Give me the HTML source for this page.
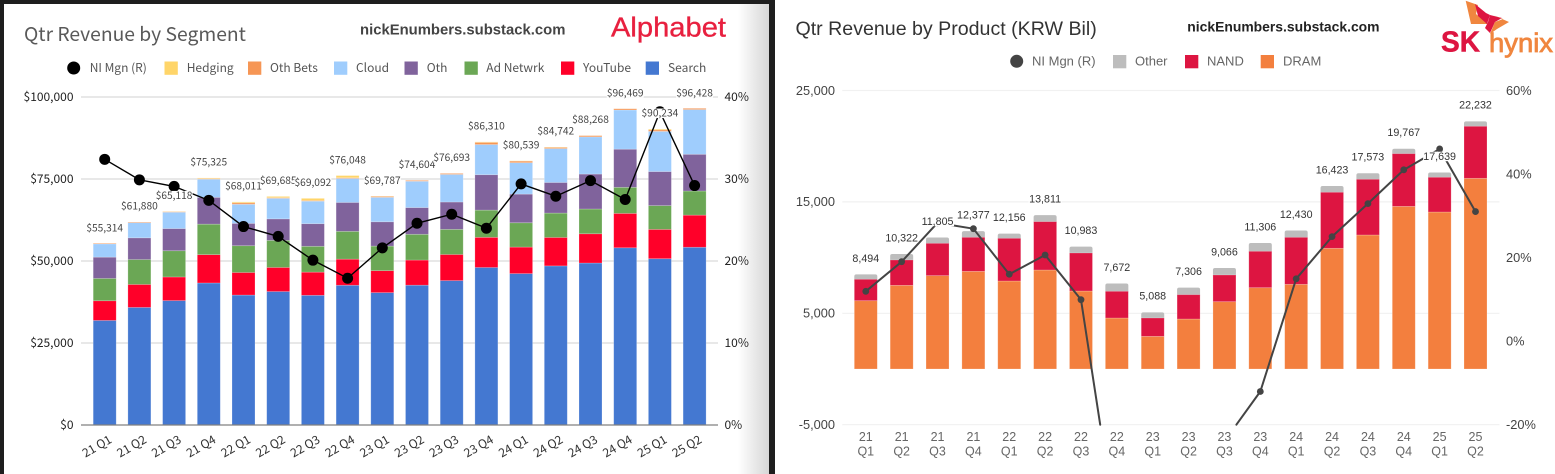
<!DOCTYPE html>
<html lang="en">
<head>
<meta charset="utf-8">
<title>Qtr Revenue: Alphabet and SK hynix</title>
<style>
html,body{margin:0;padding:0;background:#1e1e1e;width:1555px;height:474px;overflow:hidden}
svg{display:block}
.l{font-family:"Noto Sans CJK JP","Liberation Sans",sans-serif}
.r{font-family:"Liberation Sans",sans-serif}
</style>
</head>
<body>
<svg id="root" xmlns="http://www.w3.org/2000/svg" width="1555" height="474" viewBox="0 0 1555 474">
  <defs>
    <linearGradient id="shade" x1="0" x2="1" y1="0" y2="0">
      <stop offset="0" stop-color="#ffffff"/>
      <stop offset="1" stop-color="#d6d6d6"/>
    </linearGradient>
  </defs>
  <rect x="0" y="0" width="1555" height="474" fill="#1e1e1e"/>
  <rect x="4" y="4" width="765" height="470" fill="#ffffff"/>
  <rect x="738" y="4" width="31" height="470" fill="url(#shade)"/>
  <rect x="775" y="0" width="780" height="474" fill="#ffffff"/>

  <g id="leftChart" class="l">
    <text x="24" y="41" font-size="19.3" fill="#595959">Qtr Revenue by Segment</text>
    <text x="360" y="34.5" font-size="14.85" font-weight="700" fill="#444" style="font-family:'Liberation Sans',sans-serif">nickEnumbers.substack.com</text>
    <text x="611" y="36.5" font-size="28" fill="#e8203f" stroke="#e8203f" stroke-width=".35" style="font-family:'Liberation Sans',sans-serif" textLength="115" lengthAdjust="spacingAndGlyphs">Alphabet</text>
  </g>

  <g id="rightChart" class="r">
    <text x="795.5" y="35" font-size="19.6" fill="#333">Qtr Revenue by Product (KRW Bil)</text>
    <text x="1187.3" y="31.7" font-size="13.9" font-weight="700" fill="#222">nickEnumbers.substack.com</text>
    <g>
      <path d="M1465.7 .7L1478 5L1476 14L1488 24L1471 24Z" fill="#f0863f"/>
      <path d="M1475 4L1486 13L1490 15L1487 24L1478 16Z" fill="#dd1541"/>
      <path d="M1490 15L1502 18L1495 22L1490 33L1485 28L1488 22Z" fill="#dd1541"/>
      <path d="M1493 15L1509 22L1497 29L1490 34L1495 22L1503 19Z" fill="#f0863f"/>
      <text x="1441" y="51.5" font-size="29" font-weight="700" fill="#dd1541" stroke="#dd1541" stroke-width=".5" textLength="39" lengthAdjust="spacingAndGlyphs">SK</text>
      <text x="1489" y="52" font-size="27" font-weight="400" fill="#f0863f" stroke="#f0863f" stroke-width=".8" textLength="64" lengthAdjust="spacingAndGlyphs">hynix</text>
    </g>
  </g>
</svg>

<script>
/* ---------- Alphabet data ---------- */
const alphabetQuarters = ['21 Q1','21 Q2','21 Q3','21 Q4','22 Q1','22 Q2','22 Q3','22 Q4','23 Q1','23 Q2','23 Q3','23 Q4','24 Q1','24 Q2','24 Q3','24 Q4','25 Q1','25 Q2'];
const alphaSearch = [31879,35845,37926,43301,39618,40689,39539,42604,40359,42628,44026,48020,46156,48509,49385,54034,50702,54190];
const alphaYouTube = [6005,7002,7205,8633,6869,7340,7071,7963,6693,7665,7952,9200,8090,8663,8921,10473,8927,9796];
const alphaAdNetwork = [6800,7597,7999,9305,8174,8259,7872,8475,7496,7850,7669,8297,7413,7444,7548,7954,7256,7354];
const alphaOther = [6494,6623,6754,8161,6811,6553,6895,8796,7413,8142,8339,10794,8739,9312,10656,11633,10379,11203];
const alphaCloud = [4047,4628,4990,5541,5821,6276,6868,7315,7454,8031,8411,9192,9574,10347,11353,11955,12260,13624];
const alphaOtherBets = [198,192,182,181,440,193,209,226,288,285,297,657,495,365,388,400,450,373];
const alphaHedging = [0,0,62,203,278,375,638,669,84,3,0,150,72,102,17,20,260,0];
const alphaTotals = [55314,61880,65118,75325,68011,69685,69092,76048,69787,74604,76693,86310,80539,84742,88268,96469,90234,96428];
const alphaMargin = [32.4,29.9,29.1,27.4,24.2,23.0,20.1,17.9,21.6,24.6,25.7,24.0,29.4,27.9,29.8,27.5,38.2,29.2];
const alphaLeftTicks = [0,25000,50000,75000,100000];
const alphaRightTicks = [0,10,20,30,40];

/* ---------- SK hynix data ---------- */
const hynixQuarters = ['21 Q1','21 Q2','21 Q3','21 Q4','22 Q1','22 Q2','22 Q3','22 Q4','23 Q1','23 Q2','23 Q3','23 Q4','24 Q1','24 Q2','24 Q3','24 Q4','25 Q1','25 Q2'];
const hynixDram = [6131,7510,8380,8767,7899,8887,7000,4578,2933,4488,6042,7298,7603,10835,12030,14600,14093,17118];
const hynixNand = [1921,2275,2900,3051,3831,4338,3413,2395,1645,2182,2396,3267,4215,5027,4998,4727,3115,4668];
const hynixOther = [442,537,525,559,426,586,570,699,510,636,628,741,612,561,545,440,431,446];
const hynixTotals = [8494,10322,11805,12377,12156,13811,10983,7672,5088,7306,9066,11306,12430,16423,17573,19767,17639,22232];
const hynixMargin = [11.9,19.0,28.3,26.9,16.0,20.6,9.9,-46,-50.8,-40.9,-24,-12.1,14.9,25,32.9,41,46,31];
const hynixLeftTicks = [25000,15000,5000,-5000];
const hynixRightTicks = [60,40,20,0,-20];

/* ---------- axis functions ---------- */
const xAlpha = i => 104.7 + i * 34.7;
const yAlpha = v => 425 - v * 0.00328;
const yAlphaPct = p => 425 - p * 8.2;
const xHynix = i => 865.8 + i * 35.865;
const yHynix = v => 369 - v * 0.01114;
const yHynixPct = p => 341 - p * 4.175;
const HYNIX_PLOT_BOTTOM = yHynix(-5000);
const fmt = n => n.toLocaleString('en-US');

const NS = 'http://www.w3.org/2000/svg';
function mk(parent, tag, attrs, txt) {
  const el = document.createElementNS(NS, tag);
  for (const k in attrs) el.setAttribute(k, attrs[k]);
  if (txt !== undefined) el.textContent = txt;
  parent.appendChild(el);
  return el;
}
const L = document.getElementById('leftChart');
const R = document.getElementById('rightChart');
const BAR_W = 23;

/* ---------- Alphabet legend ---------- */
const alphaSeriesNames = ['Search','YouTube','Ad Netwrk','Oth','Cloud','Oth Bets','Hedging'];
const alphaSeriesColors = ['#4478d1','#ff0029','#6ba755','#80639c','#9fcdfd','#f69655','#ffd569'];
const alphaSeriesValues = [alphaSearch,alphaYouTube,alphaAdNetwork,alphaOther,alphaCloud,alphaOtherBets,alphaHedging];
const alphaLegendSlots = [
  {i:6,sq:164.5,tx:186.7},{i:5,sq:248,tx:270},{i:4,sq:334,tx:356},{i:3,sq:404.5,tx:426.7},
  {i:2,sq:464.5,tx:486.3},{i:1,sq:561,tx:583},{i:0,sq:645.7,tx:668}
];
{
  const dot = mk(L,'circle',{cx:73.7,cy:68,r:6.5,fill:'#000'});
  
  
  const dotText = mk(L,'text',{x:89.7,y:72,'font-size':12,fill:'#555'},'NI Mgn (R)');
  
  
  alphaLegendSlots.forEach(s => {
    const sq = mk(L,'rect',{x:s.sq,y:61.5,width:13.3,height:13.3,fill:alphaSeriesColors[s.i]});
    
    
    const t = mk(L,'text',{x:s.tx,y:72,'font-size':12,fill:'#555'},alphaSeriesNames[s.i]);
    
    
  });
}

/* ---------- Alphabet grid and ticks ---------- */
alphaLeftTicks.forEach(v => {
  const y = yAlpha(v);
  if (v !== 0) {
    const g = mk(L,'line',{x1:81,x2:718,y1:y,y2:y,stroke:'#d9d9d9','stroke-width':1.2});
    
    
  }
  const t = mk(L,'text',{x:73.5,y:y+4,'text-anchor':'end','font-size':12,fill:'#222'},'$'+fmt(v));
  
  
});
alphaRightTicks.forEach(p => {
  const t = mk(L,'text',{x:724.5,y:yAlphaPct(p)+4,'font-size':12,fill:'#222'},p+'%');
  
  
});

/* ---------- Alphabet bars ---------- */
alphabetQuarters.forEach((q,i) => {
  let base = 0;
  alphaSeriesValues.forEach((vals,s) => {
    const v = vals[i];
    if (v > 0) {
      const top = yAlpha(base + v);
      const bar = mk(L,'rect',{x:xAlpha(i)-BAR_W/2,y:top,width:BAR_W,height:yAlpha(base)-top,fill:alphaSeriesColors[s],stroke:'#fff','stroke-opacity':.3,'stroke-width':.7});
      
      
    }
    base += v;
  });
  const t = mk(L,'text',{x:0,y:0,'text-anchor':'end','font-size':12,fill:'#333',transform:'translate('+(xAlpha(i)+8)+' 442) rotate(-30)'},q);
  
  
});
{
  const base = mk(L,'line',{x1:81,x2:718,y1:425,y2:425,stroke:'#808080','stroke-width':1.3});
  
  
  const line = mk(L,'polyline',{points:alphaMargin.map((p,i)=>xAlpha(i)+','+yAlphaPct(p)).join(' '),fill:'none',stroke:'#000','stroke-width':1.4});
  
  
}
alphaMargin.forEach((p,i) => {
  const c = mk(L,'circle',{cx:xAlpha(i),cy:yAlphaPct(p),r:5.5,fill:'#000'});
  
  
});
alphaTotals.forEach((v,i) => {
  const cy = yAlpha(v) - 16;
  const bg = mk(L,'rect',{x:xAlpha(i)-18.5,y:cy-4.5,width:37,height:9.5,fill:'#fff'});
  
  
  const t = mk(L,'text',{x:xAlpha(i),y:cy+3.7,'text-anchor':'middle','font-size':10.2,fill:'#444'},'$'+fmt(v));
  
  
});

/* ---------- SK hynix legend ---------- */
const hynixSeriesNames = ['DRAM','NAND','Other'];
const hynixSeriesColors = ['#f37f3e','#dd1541','#bdbdbd'];
const hynixSeriesValues = [hynixDram,hynixNand,hynixOther];
const hynixLegendSlots = [{i:2,sq:1113,tx:1135},{i:1,sq:1185,tx:1207},{i:0,sq:1260.7,tx:1283}];
{
  const dot = mk(R,'circle',{cx:1016.7,cy:61.3,r:6.5,fill:'#444'});
  
  
  const dotText = mk(R,'text',{x:1032,y:65.5,'font-size':13,fill:'#666'},'NI Mgn (R)');
  
  
  hynixLegendSlots.forEach(s => {
    const sq = mk(R,'rect',{x:s.sq,y:55,width:13.3,height:13.3,fill:hynixSeriesColors[s.i]});
    
    
    const t = mk(R,'text',{x:s.tx,y:65.5,'font-size':13,fill:'#666'},hynixSeriesNames[s.i]);
    
    
  });
}

/* ---------- SK hynix grid and ticks ---------- */
hynixLeftTicks.forEach(v => {
  const y = yHynix(v);
  const g = mk(R,'line',{x1:842.3,x2:1499.5,y1:y,y2:y,stroke:'#f1f1f1','stroke-width':1.2});
  
  
  const t = mk(R,'text',{x:835,y:y+4.3,'text-anchor':'end','font-size':12.8,fill:'#444'},fmt(v));
  
  
});
hynixRightTicks.forEach(p => {
  const t = mk(R,'text',{x:1506,y:yHynixPct(p)+4.3,'font-size':12.8,fill:'#444'},p+'%');
  
  
});

/* ---------- SK hynix bars ---------- */
hynixQuarters.forEach((q,i) => {
  const otherBase = hynixDram[i] + hynixNand[i];
  const otherTop = yHynix(otherBase + hynixOther[i]);
  const cap = mk(R,'rect',{x:xHynix(i)-BAR_W/2,y:otherTop,width:BAR_W,height:yHynix(otherBase)-otherTop+3,rx:2,fill:hynixSeriesColors[2]});
  
  
  let base = 0;
  [hynixDram,hynixNand].forEach((vals,s) => {
    const v = vals[i];
    const top = yHynix(base + v);
    const bar = mk(R,'rect',{x:xHynix(i)-BAR_W/2,y:top,width:BAR_W,height:yHynix(base)-top,fill:hynixSeriesColors[s],stroke:'#fff','stroke-opacity':.3,'stroke-width':.7});
    
    
    base += v;
  });
  const parts = q.split(' ');
  const t1 = mk(R,'text',{x:xHynix(i),y:441,'text-anchor':'middle','font-size':12.5,fill:'#666'},parts[0]);
  
  
  const t2 = mk(R,'text',{x:xHynix(i),y:455.5,'text-anchor':'middle','font-size':12.5,fill:'#666'},parts[1]);
  
  
});

/* Margin line: segments are cut at the plot bottom so off-scale quarters stay inside the frame */
{
  const series = mk(R,'g',{});
  
  
  const B = HYNIX_PLOT_BOTTOM;
  hynixMargin.forEach((p,i) => {
    if (i === hynixMargin.length - 1) return;
    let x1 = xHynix(i), y1 = yHynixPct(p), x2 = xHynix(i+1), y2 = yHynixPct(hynixMargin[i+1]);
    if (y1 > B && y2 > B) return;
    if (y1 > B) { x1 = x1 + (x2-x1)*(B-y1)/(y2-y1); y1 = B; }
    else if (y2 > B) { x2 = x1 + (x2-x1)*(B-y1)/(y2-y1); y2 = B; }
    const seg = mk(series,'line',{x1:x1,y1:y1,x2:x2,y2:y2,stroke:'#444','stroke-width':2,'stroke-linecap':'round'});
    
    
  });
  hynixMargin.forEach((p,i) => {
    if (yHynixPct(p) > B) return;
    const c = mk(series,'circle',{cx:xHynix(i),cy:yHynixPct(p),r:3.4,fill:'#444'});
    
    
  });
}
hynixTotals.forEach((v,i) => {
  const cy = yHynix(v) - 16.3;
  const w = v >= 10000 ? 33 : 28;
  const bg = mk(R,'rect',{x:xHynix(i)-w/2,y:cy-4.5,width:w,height:9.5,fill:'#fff'});
  
  
  const t = mk(R,'text',{x:xHynix(i),y:cy+3.7,'text-anchor':'middle','font-size':10.7,fill:'#333'},fmt(v));
  
  
});
</script>
</body>
</html>
